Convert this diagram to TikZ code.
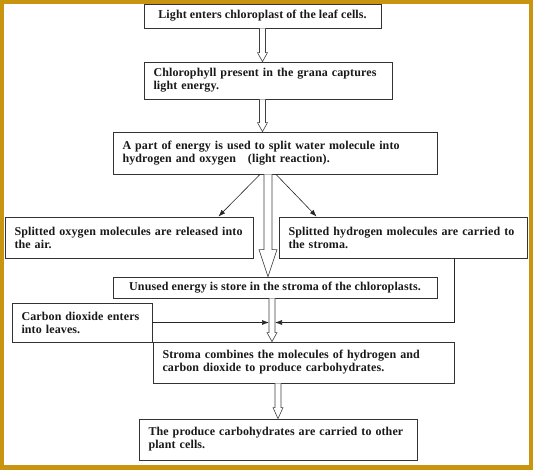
\documentclass[tikz,border=0pt]{standalone}
\usepackage{fontspec}
\setmainfont{Liberation Serif}[LetterSpace=1]
\usetikzlibrary{arrows.meta, calc}
\definecolor{frame}{RGB}{201,148,16}
\tikzset{every picture/.style = {x=1pt, y=-1pt}}
\tikzset{stepbox/.style = {draw=black!80, line width=0.8pt, fill=white, inner sep=0pt,
  text=black!90, font=\bfseries\fontsize{12}{13}\selectfont}}
\tikzset{leftbox/.style = {stepbox, align=left, inner xsep=9.5pt}}
\tikzset{hollow/.style = {draw=black!75, fill=white, line width=0.6pt, line join=miter}}
\tikzset{conn/.style = {draw=black!85, line width=0.6pt, -{Latex[length=7pt, width=5pt]}}}
\newcommand{\blockarrow}[5]{%
  \draw[hollow] let \p1 = (#1), \p2 = (#2) in
    (\x1-#3, \y1) -- (\x1-#3, \y2+#5) -- (\x1-#4, \y2+#5) -- (\x1, \y2)
    -- (\x1+#4, \y2+#5) -- (\x1+#3, \y2+#5) -- (\x1+#3, \y1);}

\begin{document}
\begin{tikzpicture}
  \fill[frame] (0, 0) rectangle (533, 470);
  \fill[white] (4, 4) rectangle (529, 465);

  \node[stepbox, minimum width=237, minimum height=24] (light) at (262.5, 16)
    {Light enters chloroplast of the leaf cells.};
  \node[leftbox, text width=229, minimum height=37] (chloro) at (268, 80.5)
    {Chlorophyll present in the grana captures\\ light energy.};
  \node[leftbox, text width=305, minimum height=42] (split) at (275, 153)
    {A part of energy is used to split water molecule into\\
     hydrogen and oxygen\ \ \ (light reaction).};
  \node[leftbox, text width=229, minimum height=41] (oxy) at (129, 237.5)
    {Splitted oxygen molecules are released into\\ the air.};
  \node[leftbox, text width=229, minimum height=41] (hyd) at (403, 237.5)
    {Splitted hydrogen molecules are carried to\\ the stroma.};
  \node[stepbox, minimum width=324, minimum height=21] (unused) at (275, 287.5)
    {Unused energy is store in the stroma of the chloroplasts.};
  \node[leftbox, text width=121, minimum height=39] (co2) at (82, 322.5)
    {Carbon dioxide enters\\ into leaves.};
  \node[leftbox, text width=282, minimum height=41] (stroma) at (303.5, 362.5)
    {Stroma combines the molecules of hydrogen and\\ carbon dioxide to produce carbohydrates.};
  \node[leftbox, text width=259, minimum height=41] (carry) at (278, 439.5)
    {The produce carbohydrates are carried to other\\ plant cells.};

  \coordinate (joint) at ($(unused.south)+(-3, 0)$);
  \coordinate (co2in) at ($(co2.east -| joint)+(-3, 0)$);
  \coordinate (h2in) at ($(co2.east -| joint)+(3, 0)$);

  \blockarrow{light.south}{chloro.north}{3pt}{5pt}{9pt}
  \blockarrow{chloro.south -| light.south}{split.north}{3pt}{5pt}{9pt}
  \blockarrow{split.south -| chloro.south}{unused.north}{4pt}{9pt}{27pt}
  \blockarrow{joint}{stroma.north}{3pt}{5pt}{9pt}
  \blockarrow{stroma.south -| carry.north}{carry.north}{3pt}{5pt}{11pt}

  \draw[conn] ($(split.south)+(-15, 0)$) -- ($(oxy.north east)+(-35, 0)$);
  \draw[conn] ($(split.south)+(1, 0)$) -- ($(hyd.north west)+(38, 0)$);
  \draw[conn] (co2.east) -- (co2in);
  \draw[conn] (hyd.south -| stroma.east) |- (h2in);
\end{tikzpicture}
\end{document}
